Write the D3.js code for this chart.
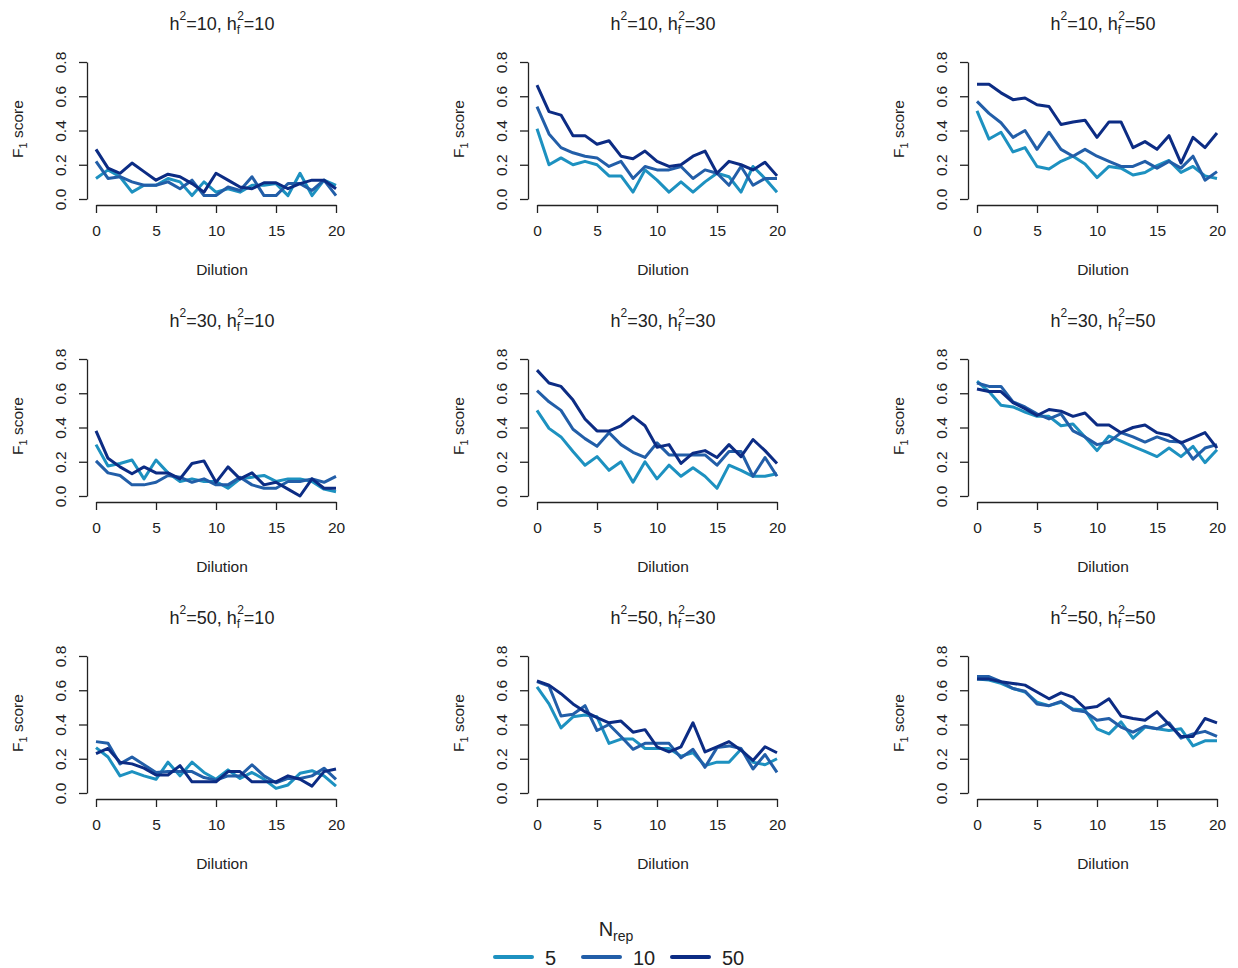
<!DOCTYPE html>
<html><head><meta charset="utf-8">
<script src="https://cdn.jsdelivr.net/npm/d3@7/dist/d3.min.js"></script>
<style>body{margin:0;background:#fff} text{font-family:Arial,"Liberation Sans",sans-serif;fill:#222}</style>
</head><body><svg id="c" width="1238" height="968"></svg>
<script>
// ---- data ----
const dilution = [0,1,2,3,4,5,6,7,8,9,10,11,12,13,14,15,16,17,18,19,20];
const nrep = ["5","10","50"];
const colors = ["#1d91c0","#225ea8","#0c2c84"];
const h2 = [10,10,10,30,30,30,50,50,50];
const hf2 = [10,30,50,10,30,50,10,30,50];
const yTicks = [0,0.2,0.4,0.6,0.8];
const xTicks = [0,5,10,15,20];

// panel 1: h2=10, hf2=10
const p1_n5  = [0.12,0.17,0.13,0.04,0.08,0.08,0.12,0.10,0.02,0.10,0.04,0.06,0.04,0.08,0.08,0.09,0.02,0.15,0.02,0.11,0.08];
const p1_n10 = [0.22,0.12,0.13,0.10,0.08,0.08,0.10,0.06,0.11,0.02,0.02,0.07,0.05,0.13,0.02,0.02,0.09,0.09,0.05,0.11,0.02];
const p1_n50 = [0.29,0.18,0.15,0.21,0.16,0.11,0.145,0.13,0.09,0.04,0.15,0.11,0.07,0.06,0.095,0.095,0.06,0.09,0.11,0.11,0.06];
// panel 2: h2=10, hf2=30
const p2_n5  = [0.41,0.20,0.24,0.20,0.22,0.20,0.135,0.135,0.04,0.17,0.11,0.04,0.10,0.04,0.10,0.15,0.13,0.04,0.19,0.12,0.04];
const p2_n10 = [0.54,0.38,0.30,0.27,0.25,0.24,0.19,0.22,0.12,0.19,0.17,0.17,0.19,0.12,0.17,0.15,0.08,0.19,0.08,0.12,0.12];
const p2_n50 = [0.665,0.51,0.49,0.37,0.37,0.32,0.34,0.25,0.235,0.28,0.22,0.19,0.20,0.25,0.28,0.15,0.22,0.20,0.17,0.215,0.135];
// panel 3: h2=10, hf2=50
const p3_n5  = [0.515,0.35,0.39,0.275,0.30,0.19,0.175,0.22,0.25,0.205,0.125,0.19,0.18,0.14,0.155,0.195,0.225,0.155,0.19,0.135,0.12];
const p3_n10 = [0.57,0.50,0.445,0.36,0.40,0.29,0.39,0.29,0.25,0.29,0.25,0.22,0.19,0.19,0.22,0.18,0.22,0.18,0.25,0.11,0.16];
const p3_n50 = [0.67,0.67,0.62,0.58,0.59,0.55,0.54,0.435,0.45,0.46,0.36,0.45,0.45,0.30,0.335,0.29,0.37,0.21,0.36,0.30,0.385];
// panel 4: h2=30, hf2=10
const p4_n5  = [0.30,0.175,0.19,0.21,0.10,0.21,0.135,0.085,0.10,0.085,0.085,0.045,0.10,0.11,0.12,0.085,0.10,0.10,0.085,0.04,0.025];
const p4_n10 = [0.205,0.135,0.12,0.065,0.065,0.08,0.12,0.11,0.08,0.10,0.065,0.065,0.11,0.065,0.045,0.045,0.085,0.085,0.10,0.08,0.115];
const p4_n50 = [0.38,0.22,0.17,0.13,0.17,0.135,0.135,0.10,0.19,0.205,0.08,0.17,0.10,0.135,0.065,0.08,0.04,0.00,0.10,0.045,0.045];
// panel 5: h2=30, hf2=30
const p5_n5  = [0.50,0.395,0.345,0.26,0.18,0.23,0.15,0.20,0.08,0.20,0.10,0.18,0.115,0.165,0.115,0.045,0.18,0.15,0.115,0.115,0.13];
const p5_n10 = [0.615,0.55,0.50,0.39,0.335,0.29,0.37,0.30,0.255,0.225,0.31,0.24,0.24,0.24,0.24,0.18,0.26,0.26,0.115,0.225,0.115];
const p5_n50 = [0.735,0.66,0.64,0.56,0.45,0.38,0.38,0.41,0.465,0.41,0.285,0.30,0.19,0.25,0.265,0.225,0.30,0.23,0.33,0.265,0.19];
// panel 6: h2=30, hf2=50
const p6_n5  = [0.67,0.61,0.53,0.52,0.49,0.465,0.465,0.41,0.42,0.345,0.265,0.35,0.32,0.29,0.26,0.23,0.28,0.23,0.29,0.195,0.27];
const p6_n10 = [0.66,0.64,0.64,0.55,0.52,0.48,0.45,0.48,0.38,0.345,0.30,0.315,0.37,0.345,0.315,0.345,0.32,0.315,0.215,0.28,0.30];
const p6_n50 = [0.625,0.61,0.61,0.545,0.51,0.47,0.505,0.495,0.465,0.485,0.415,0.415,0.37,0.40,0.415,0.37,0.355,0.31,0.34,0.37,0.28];
// panel 7: h2=50, hf2=10
const p7_n5  = [0.265,0.21,0.10,0.125,0.10,0.08,0.18,0.10,0.18,0.12,0.08,0.135,0.085,0.12,0.08,0.027,0.047,0.115,0.13,0.10,0.04];
const p7_n10 = [0.30,0.29,0.17,0.21,0.165,0.12,0.125,0.125,0.125,0.09,0.075,0.10,0.10,0.165,0.10,0.06,0.085,0.085,0.10,0.145,0.08];
const p7_n50 = [0.23,0.26,0.18,0.17,0.145,0.105,0.105,0.16,0.065,0.065,0.065,0.125,0.125,0.065,0.065,0.065,0.10,0.08,0.04,0.125,0.14];
// panel 8: h2=50, hf2=30
const p8_n5  = [0.62,0.52,0.38,0.445,0.455,0.445,0.29,0.315,0.315,0.26,0.26,0.26,0.215,0.235,0.16,0.18,0.18,0.255,0.18,0.165,0.20];
const p8_n10 = [0.65,0.625,0.45,0.46,0.51,0.365,0.40,0.33,0.255,0.29,0.29,0.29,0.205,0.255,0.15,0.265,0.275,0.26,0.14,0.225,0.12];
const p8_n50 = [0.655,0.63,0.58,0.52,0.475,0.44,0.41,0.42,0.355,0.37,0.27,0.24,0.27,0.41,0.24,0.27,0.30,0.25,0.19,0.27,0.235];
// panel 9: h2=50, hf2=50
const p9_n5  = [0.665,0.66,0.64,0.61,0.59,0.53,0.51,0.53,0.49,0.485,0.375,0.345,0.415,0.32,0.385,0.375,0.365,0.375,0.275,0.305,0.305];
const p9_n10 = [0.68,0.68,0.65,0.61,0.595,0.52,0.51,0.535,0.485,0.475,0.425,0.435,0.385,0.355,0.39,0.375,0.41,0.32,0.345,0.36,0.33];
const p9_n50 = [0.665,0.665,0.65,0.64,0.63,0.59,0.55,0.585,0.56,0.495,0.505,0.55,0.45,0.435,0.425,0.475,0.40,0.33,0.33,0.435,0.41];

const panels = [
  [p1_n5,p1_n10,p1_n50],[p2_n5,p2_n10,p2_n50],[p3_n5,p3_n10,p3_n50],
  [p4_n5,p4_n10,p4_n50],[p5_n5,p5_n10,p5_n50],[p6_n5,p6_n10,p6_n50],
  [p7_n5,p7_n10,p7_n50],[p8_n5,p8_n10,p8_n50],[p9_n5,p9_n10,p9_n50]
];

// ---- layout ----
const svg = d3.select("#c");
const colOff = [0,441,881];
const rowOff = [0,297,594];
const fs = 15.5;

panels.forEach((series,i)=>{
  const cx = colOff[i%3], ry = rowOff[Math.floor(i/3)];
  const g = svg.append("g").attr("transform",`translate(${cx},${ry})`);
  const x = d3.scaleLinear().domain([0,20]).range([96,336]);
  const y = d3.scaleLinear().domain([0,0.8]).range([199,62]);

  const xa = g.append("g").attr("transform","translate(0,205)")
    .call(d3.axisBottom(x).tickValues(xTicks).tickSize(8).tickPadding(12).tickSizeOuter(0));
  const ya = g.append("g").attr("transform","translate(87,0)")
    .call(d3.axisLeft(y).tickValues(yTicks).tickFormat(d3.format(".1f")).tickSize(8).tickSizeOuter(0));
  [xa,ya].forEach(a=>{
    a.select(".domain").attr("stroke","#222").attr("stroke-width",1.3);
    a.selectAll(".tick line").attr("stroke","#222").attr("stroke-width",1.3);
    a.selectAll("text").attr("font-size",fs).attr("font-family","Arial, 'Liberation Sans', sans-serif").attr("fill","#222");
  });
  ya.selectAll(".tick text").attr("x",null).attr("dy",null).attr("y",-21)
    .attr("transform","rotate(-90)").attr("text-anchor","middle");

  const line = d3.line().x((d,j)=>x(dilution[j])).y(d=>y(d));
  series.forEach((s,k)=>{
    g.append("path").datum(s).attr("d",line).attr("fill","none")
     .attr("stroke",colors[k]).attr("stroke-width",3).attr("stroke-linejoin","round");
  });

  // title
  const t = g.append("text").attr("x",222).attr("y",30).attr("text-anchor","middle").attr("font-size",18);
  t.append("tspan").text("h");
  t.append("tspan").attr("font-size",12).attr("dy",-10).text("2");
  t.append("tspan").attr("dy",10).text(`=${h2[i]}, h`);
  t.append("tspan").attr("font-size",12).attr("dy",4).text("f");
  t.append("tspan").attr("font-size",12).attr("dx",-3).attr("dy",-14).text("2");
  t.append("tspan").attr("dy",10).text(`=${hf2[i]}`);

  g.append("text").attr("x",222).attr("y",275).attr("text-anchor","middle").attr("font-size",fs).text("Dilution");
  const yl = g.append("text").attr("transform","translate(23,129) rotate(-90)").attr("text-anchor","middle").attr("font-size",fs);
  yl.append("tspan").text("F");
  yl.append("tspan").attr("font-size",11).attr("dy",4).text("1");
  yl.append("tspan").attr("dy",-4).text(" score");
});

// legend
const lt = svg.append("text").attr("x",616).attr("y",936).attr("text-anchor","middle").attr("font-size",20);
lt.append("tspan").text("N");
lt.append("tspan").attr("font-size",14).attr("dy",5).text("rep");
const legX = [495,583,672];
nrep.forEach((n,k)=>{
  svg.append("line").attr("x1",legX[k]).attr("x2",legX[k]+37).attr("y1",957).attr("y2",957)
    .attr("stroke",colors[k]).attr("stroke-width",4).attr("stroke-linecap","round");
  svg.append("text").attr("x",legX[k]+50).attr("y",965).attr("font-size",20).text(n);
});
</script></body></html>
